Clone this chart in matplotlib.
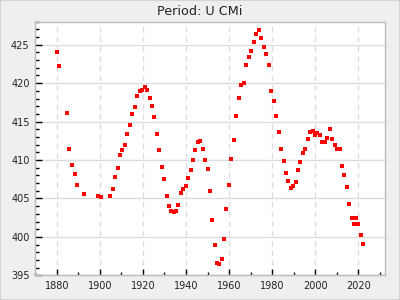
import matplotlib
matplotlib.use("Agg")
import matplotlib.pyplot as plt
from matplotlib.ticker import MultipleLocator
from matplotlib.patches import Rectangle

title = "Period: U CMi"

years = [1880.0, 1880.9, 1884.7, 1885.6, 1887.0, 1888.4, 1889.3, 1892.6, 1899.1, 1900.5,
         1904.7, 1906.0, 1907.0, 1908.4, 1909.3, 1910.2, 1911.6, 1912.6, 1914.0, 1914.9,
         1916.3, 1917.2, 1918.6, 1919.5, 1920.9, 1921.9, 1923.3, 1924.2, 1925.1, 1926.5,
         1927.4, 1928.8, 1929.8, 1931.2, 1932.1, 1933.0, 1934.4, 1935.3, 1936.3, 1937.7,
         1938.6, 1940.0, 1940.9, 1942.3, 1943.3, 1944.2, 1945.6, 1946.5, 1947.9, 1948.8,
         1950.2, 1951.2, 1952.1, 1953.5, 1954.4, 1955.3, 1956.7, 1957.7, 1958.6, 1960.0,
         1960.9, 1962.3, 1963.3, 1964.7, 1965.6, 1967.0, 1967.9, 1969.3, 1970.2, 1971.6,
         1972.6, 1974.0, 1974.9, 1976.3, 1977.2, 1978.6, 1979.5, 1980.9, 1981.9, 1983.3,
         1984.2, 1985.6, 1986.5, 1987.4, 1988.8, 1989.8, 1991.2, 1992.1, 1993.0, 1994.4,
         1995.3, 1996.7, 1997.7, 1999.1, 2000.0, 2000.9, 2002.3, 2003.3, 2004.7, 2005.6,
         2007.0, 2007.9, 2009.3, 2010.2, 2011.6, 2012.6, 2013.5, 2014.9, 2015.8, 2017.2,
         2018.1, 2019.1, 2020.0, 2021.4, 2022.3]

values = [424.06, 422.24, 416.16, 411.38, 409.31, 408.14, 406.72, 405.56, 405.30, 405.17,
          405.30, 406.2, 407.76, 408.92, 410.6, 411.25, 411.9, 413.45, 414.6, 416.04,
          416.94, 418.36, 419.0, 419.14, 419.53, 419.14, 418.1, 417.07, 415.65, 413.45,
          411.25, 409.05, 407.5, 405.3, 404.0, 403.36, 403.23, 403.36, 404.13, 405.69,
          406.2, 406.59, 407.63, 408.66, 409.95, 411.25, 412.41, 412.54, 411.38, 409.95,
          408.79, 405.94, 402.19, 398.96, 396.63, 396.5, 397.15, 399.74, 403.62, 406.72,
          410.08, 412.67, 415.78, 418.1, 419.79, 420.05, 422.37, 423.41, 424.18, 425.35,
          426.38, 426.9, 425.87, 424.7, 423.8, 422.37, 419.0, 417.72, 415.78, 413.7,
          411.5, 409.83, 408.27, 407.24, 406.33, 406.59, 407.11, 408.66, 409.7, 410.86,
          411.5, 412.8, 413.7, 413.84, 413.32, 413.58, 413.32, 412.41, 412.41, 412.93,
          414.09, 412.8, 412.02, 411.38, 411.38, 409.18, 408.01, 406.46, 404.26, 402.45,
          401.68, 402.45, 401.68, 400.25, 399.09]

fig = plt.figure(figsize=(4, 3), dpi=100, facecolor="#efefef")
fig.patches.append(Rectangle((0, 0), 1, 1, transform=fig.transFigure, fill=False,
                             edgecolor="#d4d4d4", linewidth=1.5))
ax = fig.add_axes([0.088, 0.082, 0.8745, 0.846])
ax.set_facecolor("white")
ax.plot(years, values, linestyle="none", marker="s", markersize=3.2,
        color="#ff0000", markeredgewidth=0)

ax.set_xlim(1870, 2032.4)
ax.set_ylim(395, 428)
ax.xaxis.set_major_locator(MultipleLocator(20))
ax.xaxis.set_minor_locator(MultipleLocator(10))
ax.yaxis.set_major_locator(MultipleLocator(5))
ax.yaxis.set_minor_locator(MultipleLocator(1))
ax.tick_params(which="both", direction="in", colors="black", labelsize=7, pad=4)
ax.tick_params(which="major", length=4, width=1)
ax.tick_params(which="minor", length=2.5, width=1)
ax.tick_params(axis="y", which="major", length=5)
ax.tick_params(axis="y", which="minor", length=3)
for lab in ax.get_xticklabels() + ax.get_yticklabels():
    lab.set_color("#222222")

ax.grid(axis="x", which="major", color="#dddddd", linestyle=(0, (4, 3)), linewidth=1)
ax.grid(axis="y", which="major", color="#dddddd", linestyle="-", linewidth=1)
ax.set_axisbelow(True)
for s in ax.spines.values():
    s.set_color("#bbbbbb")
    s.set_linewidth(1)

fig.text(0.5, 0.963, title, ha="center", va="center", fontsize=9.2, color="#222222")

fig.savefig("out.png", dpi=100, facecolor=fig.get_facecolor())
